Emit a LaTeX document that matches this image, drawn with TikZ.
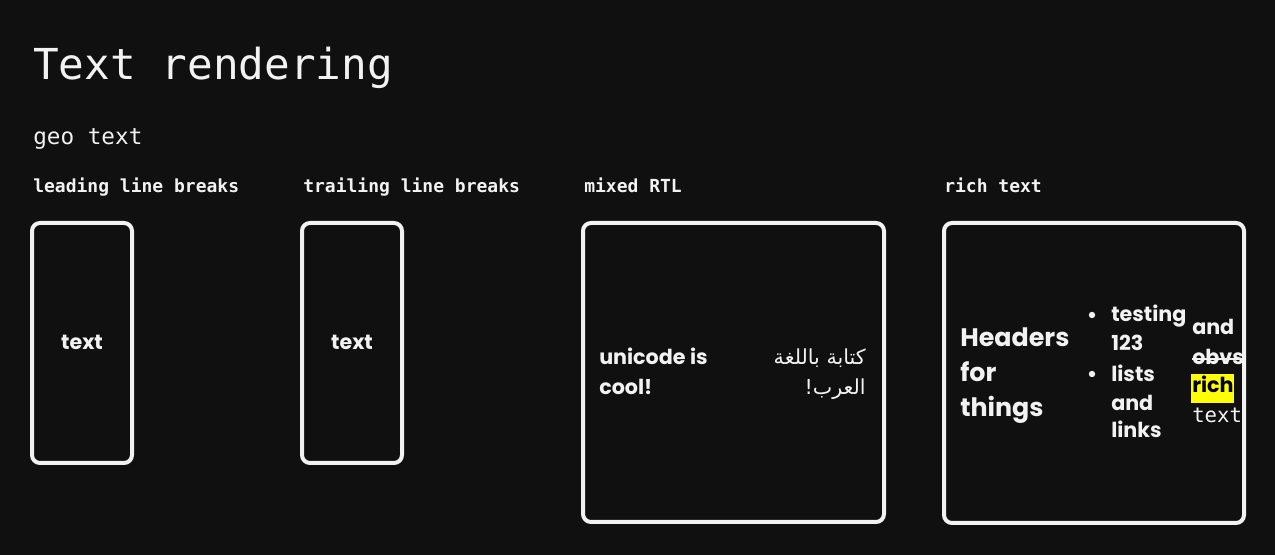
\documentclass[tikz,border=0pt]{standalone}
\usepackage{fontspec}
\setmainfont{Poppins}
\setmonofont{DejaVu Sans Mono}
\newfontfamily\hand{Poppins}
\newfontfamily\arabicfont[Script=Arabic]{DejaVu Sans}
\TeXXeTstate=1
\definecolor{bg}{HTML}{101010}
\definecolor{fg}{HTML}{F2F2F2}
\definecolor{hl}{HTML}{FFFF00}
\tikzset{
  shapebox/.style={draw=fg, line width=3pt, rounded corners=6pt, fill=bg},
  title/.style={anchor=base west, inner sep=0pt, text=fg, font=\ttfamily\fontsize{32}{38}\selectfont},
  sub/.style={anchor=base west, inner sep=0pt, text=fg, font=\ttfamily\fontsize{17}{20}\selectfont},
  label/.style={anchor=base west, inner sep=0pt, text=fg, font=\ttfamily\bfseries\fontsize{13.5}{16}\selectfont},
  handtxt/.style={anchor=base west, inner sep=0pt, text=fg, font=\hand\bfseries\fontsize{15.5}{20}\selectfont},
  bigtxt/.style={anchor=base west, inner sep=0pt, text=fg, font=\hand\bfseries\fontsize{19}{24}\selectfont},
}
\begin{document}
\begin{tikzpicture}[x=0.75pt,y=-0.75pt]
\fill[bg] (0,0) rectangle (1275,555);
\useasboundingbox (0,0) rectangle (1275,555);

\node[title] (t) at (33,80) {Text rendering};
\node[sub] (g) at (33,145) {geo text};
\node[label] (l1) at (33,193) {leading line breaks};
\node[label] (l2) at (303,193) {trailing line breaks};
\node[label] (l3) at (584,193) {mixed RTL};
\node[label] (l4) at (944,193) {rich text};

\draw[shapebox] (32,223) rectangle (132,463);
\draw[shapebox] (302,223) rectangle (402,463);
\draw[shapebox] (583,223) rectangle (884,522);
\draw[shapebox] (944,223) rectangle (1244,523);

\node[handtxt, anchor=base] (b1) at (82,350) {text};
\node[handtxt, anchor=base] (b2) at (352,350) {text};

\node[handtxt] (u1) at (599,365) {unicode is};
\node[handtxt] (u2) at (599,395) {cool!};
\node[anchor=base east, inner sep=0pt, text=fg, font=\arabicfont\fontsize{15.5}{20}\selectfont] (a1) at (866,365) {\beginR كتابة باللغة\endR};
\node[anchor=base east, inner sep=0pt, text=fg, font=\arabicfont\fontsize{15.5}{20}\selectfont] (a2) at (866,395) {\beginR العرب!\endR};

\node[bigtxt] (h1) at (960,347) {Headers};
\node[bigtxt] (h2) at (960,382) {for};
\node[bigtxt] (h3) at (960,417) {things};

\fill[fg] (1092,315) circle (3.2);
\fill[fg] (1092,374) circle (3.2);
\node[handtxt] (s1) at (1111,322) {testing};
\node[handtxt] (s2) at (1111,351) {123};
\node[handtxt] (s3) at (1111,382) {lists};
\node[handtxt] (s4) at (1111,411) {and};
\node[handtxt] (s5) at (1111,438) {links};

\node[handtxt] (r1) at (1192,335) {and};
\node[handtxt] (r2) at (1192,365) {obvs};
\draw[fg, line width=1.5pt] (r2.west |- 0,359) -- (r2.east |- 0,359);
\fill[hl] (1191,374) rectangle (1234,403);
\node[handtxt, text=black] (r3) at (1192,393) {rich};
\node[anchor=base west, inner sep=0pt, text=fg, font=\ttfamily\fontsize{15.5}{20}\selectfont] (r4) at (1192,423) {text};
\end{tikzpicture}
\end{document}
